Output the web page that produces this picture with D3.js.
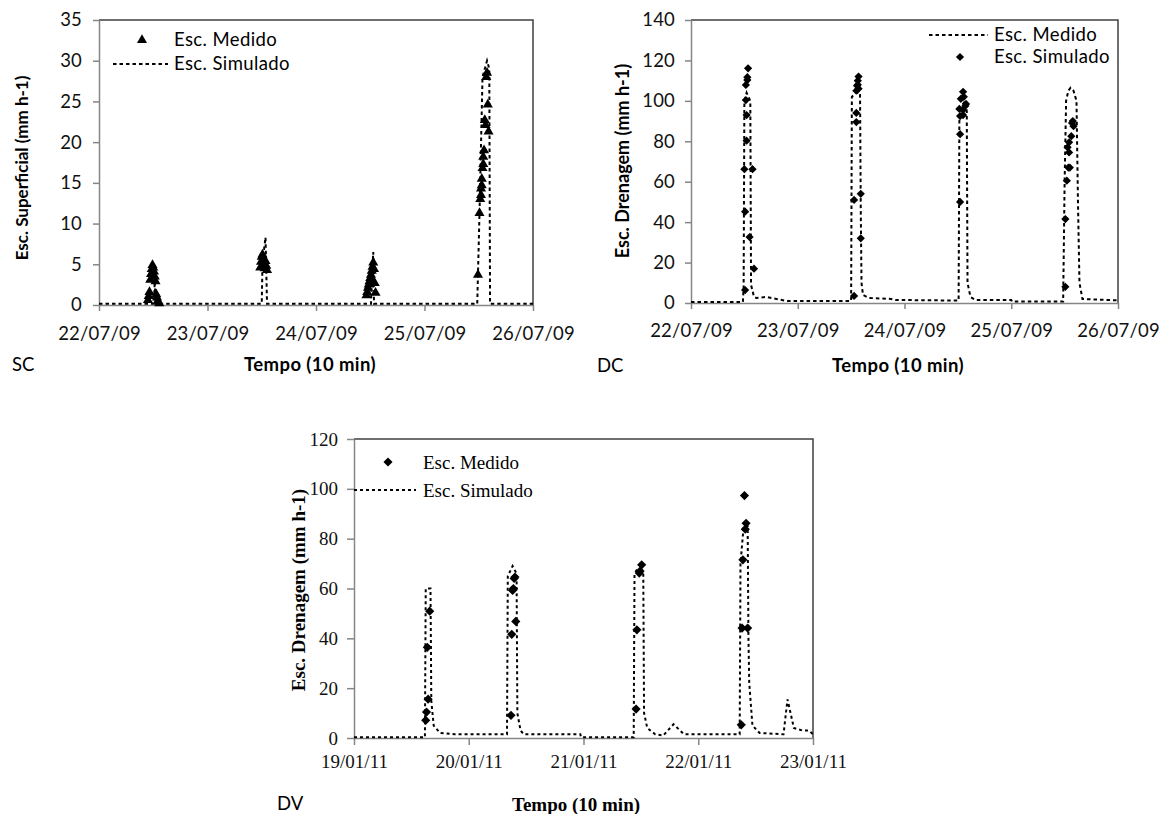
<!DOCTYPE html>
<html>
<head>
<meta charset="utf-8">
<script src="https://cdn.jsdelivr.net/npm/d3@7"></script>
<style>
  body { margin: 0; background: #fff; }
  svg { display: block; }
</style>
</head>
<body>
<svg id="fig" width="1159" height="814"></svg>
<script>
// ---- SC: escoamento superficial (triangles = medido, dashed = simulado)
const scPoints = [
  ["22/07/09 10:50", 0.6], ["22/07/09 11:00", 1.1], ["22/07/09 11:10", 1.6], ["22/07/09 11:20", 3.1],
  ["22/07/09 11:30", 3.8], ["22/07/09 11:40", 4.4], ["22/07/09 11:50", 4.9], ["22/07/09 12:00", 4.6],
  ["22/07/09 12:10", 4.1], ["22/07/09 12:20", 3.5], ["22/07/09 12:30", 2.9], ["22/07/09 12:40", 1.3],
  ["22/07/09 12:50", 0.9], ["22/07/09 13:00", 0.5], ["22/07/09 13:20", 0.2],
  ["23/07/09 11:40", 4.6], ["23/07/09 11:50", 5.3], ["23/07/09 12:00", 5.9], ["23/07/09 12:10", 6.2],
  ["23/07/09 12:20", 5.6], ["23/07/09 12:30", 5.0], ["23/07/09 12:40", 4.5], ["23/07/09 12:50", 5.4],
  ["23/07/09 13:00", 4.8], ["23/07/09 13:10", 4.3],
  ["24/07/09 11:10", 1.2], ["24/07/09 11:20", 1.6], ["24/07/09 11:30", 2.1], ["24/07/09 11:40", 2.5],
  ["24/07/09 11:50", 2.9], ["24/07/09 12:00", 3.3], ["24/07/09 12:10", 3.7], ["24/07/09 12:20", 4.2],
  ["24/07/09 12:30", 4.7], ["24/07/09 12:40", 5.2], ["24/07/09 12:50", 4.4], ["24/07/09 13:00", 2.7],
  ["24/07/09 13:10", 1.5],
  ["25/07/09 11:50", 3.7], ["25/07/09 12:10", 11.3], ["25/07/09 12:20", 13.0], ["25/07/09 12:30", 13.5],
  ["25/07/09 12:30", 14.3], ["25/07/09 12:40", 15.5], ["25/07/09 12:40", 14.7], ["25/07/09 12:50", 16.8],
  ["25/07/09 13:00", 17.3], ["25/07/09 13:00", 18.2], ["25/07/09 13:10", 19.0], ["25/07/09 13:20", 22.7],
  ["25/07/09 13:30", 22.1], ["25/07/09 13:40", 28.0], ["25/07/09 13:50", 28.5], ["25/07/09 14:00", 24.6],
  ["25/07/09 14:10", 21.3]
];
const scLine = [
  ["22/07/09 00:00", 0.15], ["22/07/09 12:10", 0.15], ["22/07/09 12:20", 3.3], ["22/07/09 12:30", 0.15],
  ["23/07/09 12:00", 0.15], ["23/07/09 12:10", 5.2], ["23/07/09 12:50", 8.3], ["23/07/09 13:10", 0.15],
  ["24/07/09 12:10", 0.15], ["24/07/09 12:20", 3.0], ["24/07/09 12:40", 6.5], ["24/07/09 12:50", 0.15],
  ["25/07/09 11:40", 0.15], ["25/07/09 11:50", 3.9], ["25/07/09 12:10", 11.3], ["25/07/09 12:50", 28.0],
  ["25/07/09 13:50", 30.0], ["25/07/09 14:20", 29.0], ["25/07/09 14:30", 0.15], ["26/07/09 00:00", 0.15]
];

// ---- DC: drenagem (dashed = "Esc. Medido", diamonds = "Esc. Simulado", as labelled)
const dcPoints = [
  ["22/07/09 12:10", 6.4], ["22/07/09 12:10", 45.2], ["22/07/09 12:00", 66.2], ["22/07/09 12:20", 100.4],
  ["22/07/09 12:20", 107.9], ["22/07/09 12:30", 80.3], ["22/07/09 12:30", 93.0], ["22/07/09 12:40", 110.3],
  ["22/07/09 12:40", 111.7], ["22/07/09 12:50", 116.1], ["22/07/09 13:10", 32.6], ["22/07/09 13:50", 66.2],
  ["22/07/09 14:10", 17.0],
  ["23/07/09 12:40", 3.5], ["23/07/09 12:40", 51.0], ["23/07/09 13:10", 94.0], ["23/07/09 13:10", 89.5],
  ["23/07/09 13:10", 105.0], ["23/07/09 13:20", 107.5], ["23/07/09 13:30", 110.0], ["23/07/09 13:40", 112.0],
  ["23/07/09 13:30", 108.0], ["23/07/09 13:40", 106.0], ["23/07/09 14:10", 54.0], ["23/07/09 14:10", 32.0],
  ["24/07/09 12:20", 96.0], ["24/07/09 12:30", 50.0], ["24/07/09 12:30", 83.5], ["24/07/09 12:30", 92.5],
  ["24/07/09 12:40", 101.0], ["24/07/09 13:10", 104.5], ["24/07/09 13:10", 95.5], ["24/07/09 13:10", 93.0],
  ["24/07/09 13:20", 102.0], ["24/07/09 13:40", 97.5], ["24/07/09 13:50", 98.5],
  ["25/07/09 12:10", 8.0], ["25/07/09 12:10", 41.5], ["25/07/09 12:30", 60.5], ["25/07/09 12:40", 77.0],
  ["25/07/09 12:50", 67.0], ["25/07/09 13:00", 74.5], ["25/07/09 13:00", 79.5], ["25/07/09 13:10", 67.0],
  ["25/07/09 13:30", 82.5], ["25/07/09 13:40", 89.0], ["25/07/09 13:50", 90.0], ["25/07/09 14:00", 87.5]
];
const dcLine = [
  ["22/07/09 00:00", 0.5], ["22/07/09 11:40", 0.5], ["22/07/09 11:50", 8], ["22/07/09 12:00", 100],
  ["22/07/09 12:30", 104], ["22/07/09 13:20", 100], ["22/07/09 13:30", 9], ["22/07/09 14:10", 3],
  ["22/07/09 14:40", 2.5], ["22/07/09 17:00", 3.0], ["22/07/09 21:30", 1.0],
  ["23/07/09 12:00", 1.0], ["23/07/09 12:10", 102], ["23/07/09 13:00", 104], ["23/07/09 14:00", 104],
  ["23/07/09 14:10", 46], ["23/07/09 14:20", 10], ["23/07/09 14:40", 4], ["23/07/09 16:00", 2.5],
  ["23/07/09 21:00", 2.0], ["23/07/09 22:00", 1.5],
  ["24/07/09 12:10", 1.2], ["24/07/09 12:20", 90], ["24/07/09 13:00", 98], ["24/07/09 13:40", 100],
  ["24/07/09 14:00", 95], ["24/07/09 14:10", 10], ["24/07/09 14:50", 3], ["24/07/09 16:00", 1.5],
  ["25/07/09 00:00", 1.5], ["25/07/09 00:10", 0.7],
  ["25/07/09 11:40", 0.7], ["25/07/09 12:00", 60], ["25/07/09 12:20", 100], ["25/07/09 12:50", 105],
  ["25/07/09 13:20", 106.5], ["25/07/09 14:00", 105], ["25/07/09 14:40", 100], ["25/07/09 15:00", 50],
  ["25/07/09 15:20", 10], ["25/07/09 16:00", 2], ["26/07/09 00:00", 1.3]
];

// ---- DV: drenagem (diamonds = medido, dashed = simulado)
const dvPoints = [
  ["19/01/11 15:00", 7.1], ["19/01/11 15:10", 10.4], ["19/01/11 15:20", 36.4], ["19/01/11 15:30", 15.6],
  ["19/01/11 15:50", 50.9],
  ["20/01/11 08:50", 9.1], ["20/01/11 09:00", 41.6], ["20/01/11 09:10", 59.2], ["20/01/11 09:20", 60.0],
  ["20/01/11 09:30", 64.0], ["20/01/11 09:40", 64.6], ["20/01/11 09:50", 46.8],
  ["21/01/11 11:00", 11.6], ["21/01/11 11:10", 43.4], ["21/01/11 11:40", 66.2], ["21/01/11 11:50", 67.0],
  ["21/01/11 12:10", 69.5],
  ["22/01/11 09:00", 5.3], ["22/01/11 09:10", 44.1], ["22/01/11 09:20", 71.5], ["22/01/11 09:40", 97.3],
  ["22/01/11 09:50", 83.8], ["22/01/11 10:00", 86.2], ["22/01/11 10:20", 44.1]
];
const dvLine = [
  ["19/01/11 00:00", 0.3], ["19/01/11 14:50", 0.3], ["19/01/11 15:00", 60], ["19/01/11 16:00", 60],
  ["19/01/11 16:10", 15], ["19/01/11 16:40", 5], ["19/01/11 18:00", 2], ["19/01/11 21:00", 1.5],
  ["20/01/11 08:00", 1.5], ["20/01/11 08:10", 65], ["20/01/11 09:10", 69], ["20/01/11 10:00", 66],
  ["20/01/11 10:10", 10], ["20/01/11 10:50", 3], ["20/01/11 11:30", 1.5], ["20/01/11 23:20", 1.5],
  ["20/01/11 23:30", 0.3],
  ["21/01/11 10:30", 0.3], ["21/01/11 10:40", 66], ["21/01/11 11:20", 68], ["21/01/11 12:30", 66],
  ["21/01/11 12:40", 10], ["21/01/11 13:20", 4], ["21/01/11 15:00", 1.5], ["21/01/11 16:40", 1.0],
  ["21/01/11 18:50", 5.5], ["21/01/11 21:00", 1.5],
  ["22/01/11 08:40", 1.5], ["22/01/11 08:50", 70], ["22/01/11 09:30", 85], ["22/01/11 10:20", 85],
  ["22/01/11 10:30", 40], ["22/01/11 10:40", 22], ["22/01/11 11:20", 5], ["22/01/11 12:50", 2],
  ["22/01/11 17:50", 1.5], ["22/01/11 18:40", 15.5], ["22/01/11 20:00", 4], ["22/01/11 21:50", 3],
  ["22/01/11 23:10", 3], ["23/01/11 00:00", 1.5]
];

const parseTime = d3.timeParse("%d/%m/%y %H:%M");
const svg = d3.select("#fig");

const sans = "Lato, 'Open Sans', sans-serif";
const serif = "'Liberation Serif', 'Times New Roman', serif";

function drawPanel(o) {
  const g = svg.append("g");
  const x = d3.scaleTime()
    .domain([parseTime(o.start), parseTime(o.end)])
    .range([o.x0, o.x1]);
  const y = d3.scaleLinear()
    .domain([0, o.yMax])
    .range([o.y1, o.y0]);

  // top and right border of the plot area
  g.append("path")
    .attr("d", `M${o.x0},${o.y0}H${o.x1}V${o.y1}`)
    .attr("fill", "none")
    .attr("stroke", "#404040")
    .attr("stroke-width", 1.5);

  // x axis
  const gx = g.append("g")
    .attr("transform", `translate(0,${o.y1})`)
    .call(d3.axisBottom(x)
      .ticks(d3.timeDay.every(1))
      .tickFormat(d3.timeFormat("%d/%m/%y"))
      .tickSize(o.tick)
      .tickSizeOuter(0)
      .tickPadding(o.xPad));

  // y axis
  const gy = g.append("g")
    .attr("transform", `translate(${o.x0},0)`)
    .call(d3.axisLeft(y)
      .tickValues(d3.range(0, o.yMax + 1, o.yStep))
      .tickSize(o.tick)
      .tickSizeOuter(0)
      .tickPadding(o.yPad));

  [gx, gy].forEach(a => {
    a.select(".domain").attr("stroke", "#868686").attr("stroke-width", 1.5);
    a.selectAll(".tick line").attr("stroke", "#868686").attr("stroke-width", 1.5);
    a.selectAll("text")
      .attr("font-family", o.font)
      .attr("font-size", o.fs)
      .attr("letter-spacing", o.tls)
      .attr("fill", "#111");
  });

  // dashed line series
  const line = d3.line()
    .x(d => x(parseTime(d[0])))
    .y(d => y(d[1]));
  g.append("path")
    .datum(o.line)
    .attr("d", line)
    .attr("fill", "none")
    .attr("stroke", "#000")
    .attr("stroke-width", 2)
    .attr("stroke-dasharray", o.dash);

  // marker series
  const sym = d3.symbol().type(o.marker).size(o.mSize);
  g.selectAll(".pt")
    .data(o.points)
    .join("path")
    .attr("class", "pt")
    .attr("d", sym)
    .attr("fill", "#000")
    .attr("transform", d => `translate(${x(parseTime(d[0]))},${y(d[1])}) rotate(${o.mRot})`);

  // legend
  o.legend.forEach(l => {
    if (l.kind === "line") {
      g.append("line")
        .attr("x1", l.lx0).attr("x2", l.lx1)
        .attr("y1", l.y).attr("y2", l.y)
        .attr("stroke", "#000")
        .attr("stroke-width", 2)
        .attr("stroke-dasharray", o.dash);
    } else {
      g.append("path")
        .attr("d", sym)
        .attr("fill", "#000")
        .attr("transform", `translate(${l.mx},${l.y}) rotate(${o.mRot})`);
    }
    g.append("text")
      .attr("x", l.tx)
      .attr("y", l.y)
      .attr("dy", "0.35em")
      .attr("font-family", o.font)
      .attr("font-size", o.fs)
      .attr("letter-spacing", o.ls)
      .text(l.label);
  });

  // axis titles
  g.append("text")
    .attr("transform", `translate(${o.yTitleX},${o.yTitleY}) rotate(-90)`)
    .attr("text-anchor", "middle")
    .attr("dy", "0.35em")
    .attr("font-family", o.font)
    .attr("font-size", o.yTitleFs)
    .attr("font-weight", "bold")
    .text(o.yTitle);

  g.append("text")
    .attr("x", o.xTitleX)
    .attr("y", o.xTitleY)
    .attr("text-anchor", "middle")
    .attr("dy", "0.35em")
    .attr("font-family", o.font)
    .attr("font-size", o.fs)
    .attr("letter-spacing", o.ls)
    .attr("font-weight", "bold")
    .text("Tempo (10 min)");

  // panel tag
  g.append("text")
    .attr("x", o.tagX)
    .attr("y", o.xTitleY)
    .attr("dy", "0.35em")
    .attr("font-family", sans)
    .attr("font-size", 18.5)
    .text(o.tag);
}

drawPanel({
  x0: 99, x1: 533, y0: 20, y1: 305,
  start: "22/07/09 00:00", end: "26/07/09 00:00",
  yMax: 35, yStep: 5, tick: 6, xPad: 16, yPad: 11,
  font: sans, fs: 18.5, ls: 0.4, tls: 0.2, dash: "3.5,3",
  line: scLine, points: scPoints,
  marker: d3.symbolTriangle, mSize: 44, mRot: 0,
  legend: [
    { kind: "marker", mx: 142, tx: 174, y: 40, label: "Esc. Medido" },
    { kind: "line", lx0: 113, lx1: 168, tx: 174, y: 64, label: "Esc. Simulado" }
  ],
  yTitle: "Esc. Superficial (mm h-1)", yTitleX: 22, yTitleY: 168, yTitleFs: 17,
  xTitleX: 310, xTitleY: 365, tag: "SC", tagX: 12
});

drawPanel({
  x0: 691, x1: 1118, y0: 20, y1: 303,
  start: "22/07/09 00:00", end: "26/07/09 00:00",
  yMax: 140, yStep: 20, tick: 6, xPad: 15, yPad: 10,
  font: sans, fs: 18.5, ls: 0.4, tls: 0.2, dash: "3.5,3",
  line: dcLine, points: dcPoints,
  marker: d3.symbolSquare, mSize: 34, mRot: 45,
  legend: [
    { kind: "line", lx0: 929, lx1: 988, tx: 994, y: 35, label: "Esc. Medido" },
    { kind: "marker", mx: 960, tx: 994, y: 57, label: "Esc. Simulado" }
  ],
  yTitle: "Esc. Drenagem (mm h-1)", yTitleX: 623, yTitleY: 161, yTitleFs: 18,
  xTitleX: 898, xTitleY: 366, tag: "DC", tagX: 597
});

drawPanel({
  x0: 354, x1: 813, y0: 439, y1: 738,
  start: "19/01/11 00:00", end: "23/01/11 00:00",
  yMax: 120, yStep: 20, tick: 7, xPad: 10, yPad: 9,
  font: serif, fs: 19, ls: 0, tls: 0, dash: "3,3",
  line: dvLine, points: dvPoints,
  marker: d3.symbolSquare, mSize: 42, mRot: 45,
  legend: [
    { kind: "marker", mx: 388, tx: 423, y: 462, label: "Esc. Medido" },
    { kind: "line", lx0: 354, lx1: 416, tx: 423, y: 490, label: "Esc. Simulado" }
  ],
  yTitle: "Esc. Drenagem (mm h-1)", yTitleX: 298, yTitleY: 590, yTitleFs: 19,
  xTitleX: 576, xTitleY: 804, tag: "DV", tagX: 277
});
</script>
</body>
</html>
